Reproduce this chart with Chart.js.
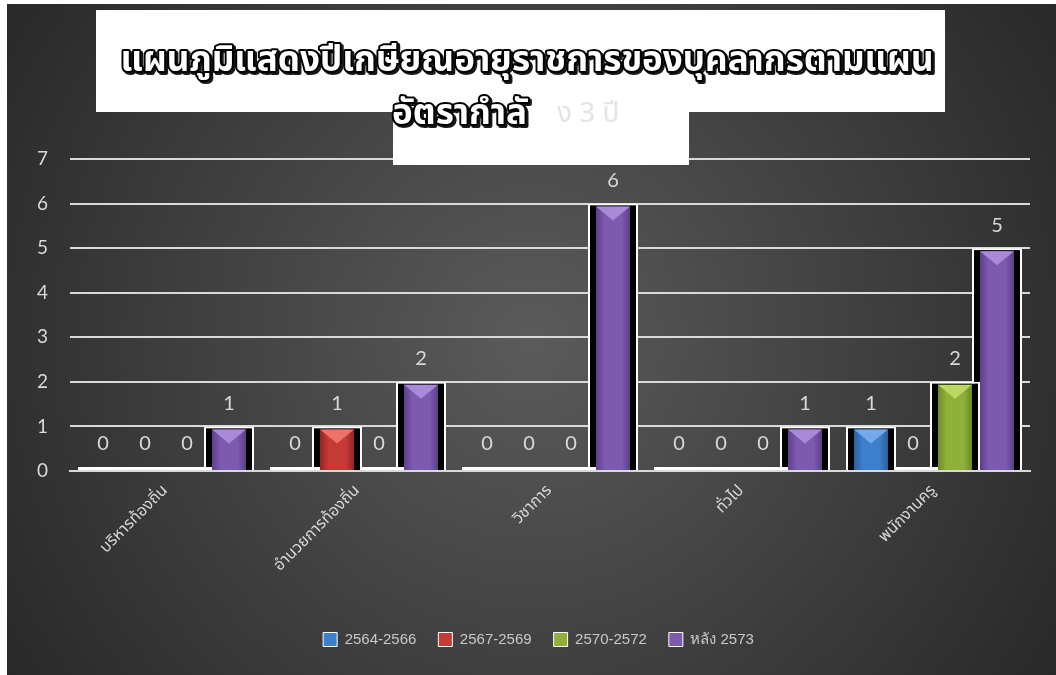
<!DOCTYPE html>
<html>
<head>
<meta charset="utf-8">
<script src="https://cdn.jsdelivr.net/npm/chart.js@4.4.1/dist/chart.umd.min.js"></script>
<style>
	html, body { margin: 0; padding: 0; background: #fff; }
	#wrap { position: absolute; left: 7px; top: 4px; width: 1049px; height: 671px; }
</style>
</head>
<body>
<div id="wrap"><canvas id="myChart" width="1049" height="671"></canvas></div>
<script>
const categories = ['บริหารท้องถิ่น', 'อำนวยการท้องถิ่น', 'วิชาการ', 'ทั่วไป', 'พนักงานครู'];
const seriesNames = ['2564-2566', '2567-2569', '2570-2572', 'หลัง 2573'];
const s2564 = [0, 0, 0, 0, 1];
const s2567 = [0, 1, 0, 0, 0];
const s2570 = [0, 0, 0, 0, 2];
const sAfter = [1, 2, 6, 1, 5];
const yTicks = [0, 1, 2, 3, 4, 5, 6, 7];

const colors = ['#3d7fcc', '#c63a36', '#8fb13a', '#7c5aaf'];
const lights = ['#74aaea', '#ec726b', '#bcd862', '#a88ad9'];
const darks = ['#2a5f9e', '#922624', '#6b8a26', '#5c4088'];
const seriesData = [s2564, s2567, s2570, sAfter];

const textGray = '#d9d9d9';

const datasets = seriesData.map((vals, i) => ({
	label: seriesNames[i],
	data: vals,
	backgroundColor: vals.map(v => v === 0 ? '#ffffff' : '#000000'),
	borderColor: '#ffffff',
	borderWidth: vals.map(v => v === 0 ? 0 : { top: 2, left: 2, right: 2, bottom: 0 }),
	borderSkipped: false,
	minBarLength: 4,
	categoryPercentage: 0.875,
	barPercentage: 1.19,
}));

// background radial gradient
const bgPlugin = {
	id: 'bg',
	beforeDraw(chart) {
		const c = chart.ctx, w = chart.width, h = chart.height;
		const g = c.createRadialGradient(w * 0.5, h * 0.5, 10, w * 0.5, h * 0.5, w * 0.62);
		g.addColorStop(0, '#5a5a5a');
		g.addColorStop(1, '#262626');
		c.save();
		c.fillStyle = g;
		c.fillRect(0, 0, w, h);
		c.restore();
	}
};

// legend sits a bit right of the plot centre in the original
const legendShift = {
	id: 'legendShift',
	afterLayout(chart) {
		chart.legend.left += 20;
		chart.legend.right += 20;
	}
};

// bevelled bar faces on top of the black/white bar body
const barFace = {
	id: 'barFace',
	afterDatasetDraw(chart, args) {
		const c = chart.ctx;
		const i = args.index;
		const vals = seriesData[i];
		args.meta.data.forEach((el, k) => {
			if (vals[k] === 0) return;
			const p = el.getProps(['x', 'y', 'base', 'width'], true);
			const l = p.x - p.width / 2 + 8, r = p.x + p.width / 2 - 8;
			const top = p.y + 3, bot = p.base;
			c.save();
			const g = c.createLinearGradient(l, 0, r, 0);
			g.addColorStop(0, darks[i]);
			g.addColorStop(0.25, colors[i]);
			g.addColorStop(0.75, colors[i]);
			g.addColorStop(1, darks[i]);
			c.fillStyle = g;
			c.fillRect(l, top, r - l, bot - top);
			c.fillStyle = lights[i];
			c.beginPath();
			c.moveTo(l, top);
			c.lineTo(r, top);
			c.lineTo(p.x, top + 14);
			c.closePath();
			c.fill();
			c.restore();
		});
	}
};

const valueLabels = {
	id: 'valueLabels',
	afterDatasetsDraw(chart) {
		const c = chart.ctx;
		c.save();
		c.font = '20px Lato';
		c.fillStyle = textGray;
		c.textAlign = 'center';
		c.textBaseline = 'bottom';
		chart.data.datasets.forEach((ds, i) => {
			chart.getDatasetMeta(i).data.forEach((el, k) => {
				c.fillText(String(ds.data[k]), el.x, el.y - 13);
			});
		});
		c.restore();
	}
};

const titleBox = {
	id: 'titleBox',
	afterDraw(chart) {
		const c = chart.ctx;
		c.save();
		c.fillStyle = '#ffffff';
		c.fillRect(89, 6, 849, 102);
		c.fillRect(386, 107, 296, 54);
		c.fillStyle = '#e4e4e4';
		c.font = '28px "Noto Sans Thai", "Noto Sans", sans-serif';
		c.textBaseline = 'alphabetic';
		c.textAlign = 'left';
		c.fillText('ง 3 ปี', 550, 118);
		c.font = 'bold 35px "Noto Sans Thai", "Noto Sans", sans-serif';
		c.lineJoin = 'round';
		const lines = [
			['แผนภูมิแสดงปีเกษียณอายุราชการของบุคลากรตามแผน', 520, 67, 'center', 815],
			['อัตรากำลั', 385, 120, 'left', 158],
		];
		lines.forEach(([t, x, y, al, mw]) => {
			c.textAlign = al;
			c.shadowColor = 'rgba(0,0,0,0.9)';
			c.shadowOffsetX = 2;
			c.shadowOffsetY = 2;
			c.strokeStyle = '#000';
			c.lineWidth = 4;
			c.strokeText(t, x, y, mw);
			c.shadowColor = 'transparent';
			c.fillStyle = '#ffffff';
			c.fillText(t, x, y, mw);
		});
		c.restore();
	}
};

const ctx = document.getElementById('myChart').getContext('2d');
const myChart = new Chart(ctx, {
	type: 'bar',
	data: {
		labels: categories,
		datasets: datasets
	},
	options: {
		responsive: false,
		animation: false,
		layout: {
			padding: { top: 155, right: 26, bottom: 18, left: 0 }
		},
		scales: {
			x: {
				grid: { display: false },
				border: { color: '#d9d9d9', width: 2 },
				ticks: {
					color: textGray,
					font: { size: 16, family: '"Noto Sans Thai", "Noto Sans", sans-serif' },
					minRotation: 45,
					maxRotation: 45,
				},
				afterFit(scale) { scale.height = 139; }
			},
			y: {
				min: 0,
				max: 7,
				afterBuildTicks(scale) { scale.ticks = yTicks.map(v => ({ value: v })); },
				grid: { color: '#d9d9d9', lineWidth: 2, drawTicks: false },
				border: { display: false },
				ticks: {
					color: textGray,
					padding: 22,
					font: { size: 19, family: 'Lato' }
				},
				afterFit(scale) { scale.width = 63; }
			}
		},
		plugins: {
			legend: {
				position: 'bottom',
				labels: {
					color: '#c8c8c8',
					font: { size: 15, family: '"Liberation Sans", Arial, sans-serif' },
					boxWidth: 14,
					boxHeight: 14,
					padding: 22,
					generateLabels(chart) {
						return seriesNames.map((n, i) => ({
							text: n,
							fillStyle: colors[i],
							strokeStyle: '#ffffff',
							lineWidth: 1,
							fontColor: '#c8c8c8',
							datasetIndex: i,
							hidden: false
						}));
					}
				}
			},
			title: { display: false },
			tooltip: { enabled: false }
		}
	},
	plugins: [bgPlugin, legendShift, barFace, valueLabels, titleBox]
});
</script>
</body>
</html>
